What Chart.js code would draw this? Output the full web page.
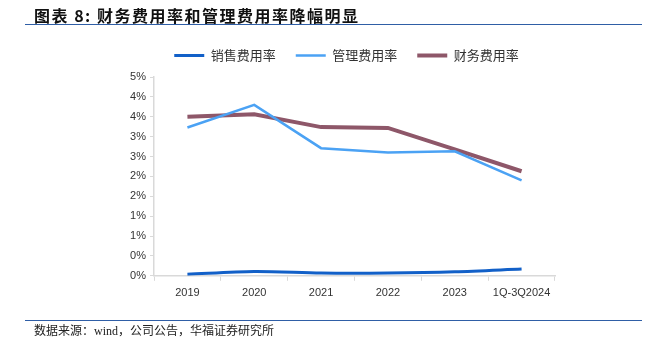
<!DOCTYPE html>
<html>
<head>
<meta charset="utf-8">
<script src="https://cdn.jsdelivr.net/npm/chart.js@4.4.1/dist/chart.umd.min.js"></script>
<style>
  body { margin: 0; background: #fff; }
  #wrap { position: relative; width: 662px; height: 352px; overflow: hidden; }
  #title {
    position: absolute; left: 34px; top: 3px; letter-spacing: 1.5px;
    font: bold 16px "Noto Sans CJK SC", sans-serif; color: #111;
  }
  #topLine { position: absolute; left: 25px; width: 617px; top: 24px; height: 0; border-top: 1.5px solid #2f5ea6; }
  #bottomLine { position: absolute; left: 25px; width: 617px; top: 320px; height: 0; border-top: 1.5px solid #2f5ea6; }
  #source {
    position: absolute; left: 34px; top: 321px;
    font: 12px "Liberation Serif", "Noto Sans CJK SC", serif; color: #222;
  }
  canvas { position: absolute; left: 0; top: 0; }
</style>
</head>
<body>
<div id="wrap">
  <canvas id="chart" width="662" height="352"></canvas>
  <div id="title">图表 8:  财务费用率和管理费用率降幅明显</div>
  <div id="topLine"></div>
  <div id="bottomLine"></div>
  <div id="source">数据来源：wind，公司公告，华福证券研究所</div>
</div>
<script>
// data (percent)
const categories = ['2019', '2020', '2021', '2022', '2023', '1Q-3Q2024'];
const salesRate = [0.04, 0.11, 0.07, 0.07, 0.10, 0.17];
const adminRate = [3.73, 4.30, 3.21, 3.10, 3.13, 2.40];
const financeRate = [4.00, 4.06, 3.74, 3.72, 3.18, 2.63];
const yTickLabels = ['0%', '0%', '1%', '1%', '2%', '2%', '3%', '3%', '4%', '4%', '5%'];

const axisColor = '#d9d9d9';
const tickFont = { family: 'Liberation Sans, Arial, sans-serif', size: 11 };

// nudge legend: extra space below it and shift right a bit
const legendTweak = {
    id: 'legendTweak',
    beforeInit(chart) {
        const fit = chart.legend.fit;
        chart.legend.fit = function () {
            fit.call(this);
            this.height += 5;
        };
    },
    afterLayout(chart) {
        chart.legend.left += 9;
        chart.legend.right += 9;
    }
};

const ctx = document.getElementById('chart').getContext('2d');
new Chart(ctx, {
    type: 'line',
    data: {
        labels: categories,
        datasets: [
            {
                label: '销售费用率',
                data: salesRate,
                borderColor: '#1260c8',
                backgroundColor: '#1260c8',
                borderWidth: 3,
                tension: 0.3,
                pointRadius: 0
            },
            {
                label: '管理费用率',
                data: adminRate,
                borderColor: '#4ba2f4',
                backgroundColor: '#4ba2f4',
                borderWidth: 2.5,
                tension: 0,
                pointRadius: 0
            },
            {
                label: '财务费用率',
                data: financeRate,
                borderColor: '#8e5769',
                backgroundColor: '#8e5769',
                borderWidth: 4,
                tension: 0,
                pointRadius: 0
            }
        ]
    },
    options: {
        responsive: false,
        animation: false,
        layout: { padding: { left: 120, right: 107, top: 29, bottom: 46 } },
        plugins: {
            tooltip: { enabled: false },
            legend: {
                position: 'top',
                labels: {
                    usePointStyle: true,
                    pointStyle: 'line',
                    pointStyleWidth: 30,
                    padding: 20,
                    color: '#333',
                    font: { family: 'Noto Sans CJK SC, sans-serif', size: 13 }
                }
            }
        },
        scales: {
            x: {
                offset: true,
                border: { color: axisColor, width: 1.5 },
                grid: { offset: true, drawOnChartArea: false, drawTicks: true, tickLength: 5, color: axisColor },
                ticks: { color: '#333', font: tickFont, maxRotation: 0, padding: 6 }
            },
            y: {
                min: 0,
                max: 5,
                border: { color: axisColor, width: 1.5 },
                grid: { drawOnChartArea: false, drawTicks: true, tickLength: 4, color: axisColor },
                ticks: {
                    stepSize: 0.5,
                    color: '#333',
                    font: tickFont,
                    padding: 4,
                    callback: (v, i) => yTickLabels[i]
                },
                afterFit: (scale) => { scale.width = 34; }
            }
        }
    },
    plugins: [legendTweak]
});
</script>
</body>
</html>
